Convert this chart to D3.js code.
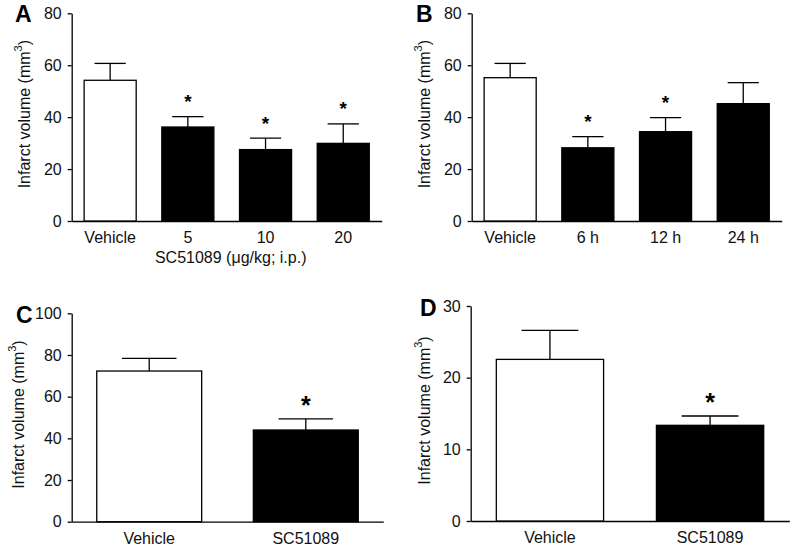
<!DOCTYPE html>
<html>
<head>
<meta charset="utf-8">
<script src="https://cdn.jsdelivr.net/npm/d3@7"></script>
<style>
  body { margin: 0; background: #fff; }
  svg { display: block; font-family: "Liberation Sans", Arial, sans-serif; }
</style>
</head>
<body>
<svg id="chart"></svg>
<script>
'use strict'

const width = 800,
      height = 551

// panel A: dose response
const catsA = ["Vehicle", "5", "10", "20"]
const meanA = [54.2, 36.2, 27.5, 29.9]
const semA = [6.5, 4.0, 4.4, 7.5]
const sigA = [false, true, true, true]

// panel B: time window
const catsB = ["Vehicle", "6 h", "12 h", "24 h"]
const meanB = [55.2, 28.2, 34.4, 45.2]
const semB = [5.5, 4.3, 5.4, 8.1]
const sigB = [false, true, true, false]

// panel C
const catsC = ["Vehicle", "SC51089"]
const meanC = [72.3, 44.0]
const semC = [6.1, 5.3]
const sigC = [false, true]

// panel D
const catsD = ["Vehicle", "SC51089"]
const meanD = [22.55, 13.35]
const semD = [4.05, 1.3]
const sigD = [false, true]

const ticksAB = [0, 20, 40, 60, 80]
const ticksC = [0, 20, 40, 60, 80, 100]
const ticksD = [0, 10, 20, 30]

const fills = ["#fff", "#000", "#000", "#000"]

const svg = d3.select("#chart")
  .attr("width", width)
  .attr("height", height)

svg.append("rect").attr("width", width).attr("height", height).attr("fill", "#fff")

const panels = [
  { label: "A", cats: catsA, mean: meanA, sem: semA, sig: sigA, ticks: ticksAB,
    left: 71.7, right: 381.7, top: 13.3, bottom: 221, labelX: 15, labelY: 22,
    titleX: 24, cap: 0.6, star: 19, xTitle: "SC51089 (\u03bcg/kg; i.p.)" },
  { label: "B", cats: catsB, mean: meanB, sem: semB, sig: sigB, ticks: ticksAB,
    left: 471.7, right: 781.7, top: 13.3, bottom: 221, labelX: 416, labelY: 22,
    titleX: 424, cap: 0.6, star: 19 },
  { label: "C", cats: catsC, mean: meanC, sem: semC, sig: sigC, ticks: ticksC,
    left: 71.7, right: 383.3, top: 313.3, bottom: 521.7, labelX: 16, labelY: 323,
    titleX: 18, cap: 0.52, star: 25 },
  { label: "D", cats: catsD, mean: meanD, sem: semD, sig: sigD, ticks: ticksD,
    left: 470.7, right: 789.3, top: 306, bottom: 521, labelX: 420, labelY: 316,
    titleX: 424, cap: 0.53, star: 25 }
]

const fontSize = "16px"

panels.forEach(p => {
  const g = svg.append("g")

  const x = d3.scaleBand()
    .domain(p.cats)
    .range([p.left, p.right])
    .paddingInner(0.33)
    .paddingOuter(0.16)

  const y = d3.scaleLinear()
    .domain([0, d3.max(p.ticks)])
    .range([p.bottom, p.top])

  // y axis
  const yAxis = g.append("g")
    .attr("transform", `translate(${p.left},0)`)
    .call(d3.axisLeft(y).tickValues(p.ticks).tickSize(4).tickPadding(6).tickSizeOuter(0))
  yAxis.select(".domain").attr("stroke", "#000").attr("stroke-width", 1.3)
  yAxis.selectAll(".tick line").attr("stroke", "#000").attr("stroke-width", 1.3)
  yAxis.selectAll(".tick text")
    .attr("fill", "#111")
    .style("font-size", fontSize)
    .style("font-family", "'Liberation Sans', Arial, sans-serif")

  // x axis (baseline only, labels below)
  const xAxis = g.append("g")
    .attr("transform", `translate(0,${p.bottom})`)
    .call(d3.axisBottom(x).tickSize(0).tickPadding(11).tickSizeOuter(0))
  xAxis.select(".domain").attr("stroke", "#000").attr("stroke-width", 1.3)
  xAxis.selectAll(".tick text")
    .attr("fill", "#111")
    .style("font-size", fontSize)
    .style("font-family", "'Liberation Sans', Arial, sans-serif")

  const rows = p.cats.map((c, i) => ({ cat: c, mean: p.mean[i], sem: p.sem[i], sig: p.sig[i], i }))

  // error bars (upper only)
  const err = g.append("g").attr("stroke", "#000").attr("stroke-width", 1.3)
  err.selectAll("line.stem")
    .data(rows).enter().append("line")
      .attr("class", "stem")
      .attr("x1", d => x(d.cat) + x.bandwidth() / 2)
      .attr("x2", d => x(d.cat) + x.bandwidth() / 2)
      .attr("y1", d => y(d.mean))
      .attr("y2", d => y(d.mean + d.sem))
  err.selectAll("line.cap")
    .data(rows).enter().append("line")
      .attr("class", "cap")
      .attr("x1", d => x(d.cat) + x.bandwidth() * (1 - p.cap) / 2)
      .attr("x2", d => x(d.cat) + x.bandwidth() * (1 + p.cap) / 2)
      .attr("y1", d => y(d.mean + d.sem))
      .attr("y2", d => y(d.mean + d.sem))

  // bars
  g.selectAll("rect.bar")
    .data(rows).enter().append("rect")
      .attr("class", "bar")
      .attr("x", d => x(d.cat))
      .attr("y", d => y(d.mean))
      .attr("width", x.bandwidth())
      .attr("height", d => y(0) - y(d.mean))
      .attr("fill", d => fills[d.i])
      .attr("stroke", "#000")
      .attr("stroke-width", 1.3)

  // significance stars
  g.selectAll("text.star")
    .data(rows.filter(d => d.sig)).enter().append("text")
      .attr("class", "star")
      .attr("x", d => x(d.cat) + x.bandwidth() / 2)
      .attr("y", d => y(d.mean + d.sem) - 19 + p.star * 0.55)
      .attr("text-anchor", "middle")
      .style("font-size", p.star + "px")
      .style("font-weight", "bold")
      .text("*")

  // y title
  const yt = g.append("text")
    .attr("transform", `translate(${p.titleX},${(p.top + p.bottom) / 2 - 3}) rotate(-90)`)
    .attr("text-anchor", "middle")
    .attr("dominant-baseline", "central")
    .attr("fill", "#111")
    .style("font-size", fontSize)
  yt.append("tspan").text("Infarct volume (mm")
  yt.append("tspan").attr("dy", -6).style("font-size", "11px").text("3")
  yt.append("tspan").attr("dy", 6).text(")")

  // panel label
  g.append("text")
    .attr("x", p.labelX)
    .attr("y", p.labelY)
    .style("font-size", "23px")
    .style("font-weight", "bold")
    .text(p.label)

  // x title
  if (p.xTitle) {
    g.append("text")
      .attr("x", (p.left + p.right) / 2 + 4)
      .attr("y", p.bottom + 42)
      .attr("text-anchor", "middle")
      .attr("fill", "#111")
      .style("font-size", fontSize)
      .text(p.xTitle)
  }
})
</script>
</body>
</html>
